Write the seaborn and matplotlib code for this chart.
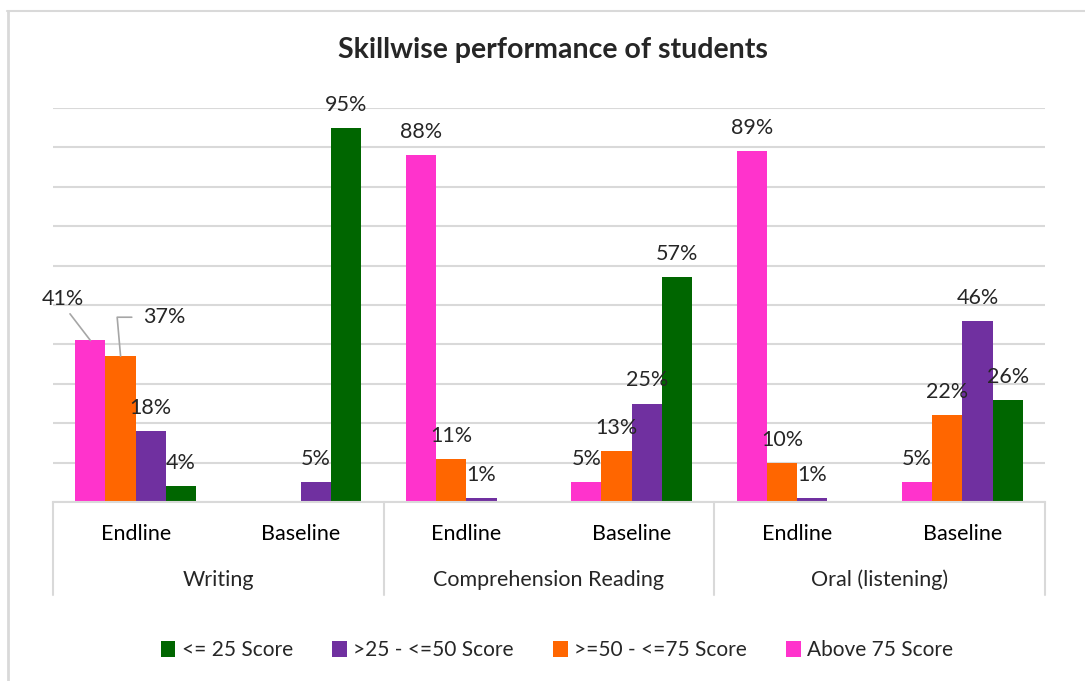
import numpy as np
import pandas as pd
import seaborn as sns
import matplotlib.pyplot as plt
from matplotlib.patches import Patch
from matplotlib.lines import Line2D
from matplotlib import transforms

# data (percent of students)
skills = ["Writing", "Comprehension Reading", "Oral (listening)"]
rounds = ["Endline", "Baseline"]
series_names = ["Above 75 Score", ">=50 - <=75 Score", ">25 - <=50 Score", "<= 25 Score"]
above_75 = [41, 0, 88, 5, 89, 5]
score_50_75 = [37, 0, 11, 13, 10, 22]
score_25_50 = [18, 5, 1, 25, 1, 46]
score_le_25 = [4, 95, 0, 57, 0, 26]

colors = ["#FF33CC", "#FF6600", "#7030A0", "#006600"]

slots = [s + " " + r for s in skills for r in rounds]
rows = []
for name, vals in zip(series_names, [above_75, score_50_75, score_25_50, score_le_25]):
    for slot, v in zip(slots, vals):
        rows.append({"slot": slot, "series": name, "value": v})
df = pd.DataFrame(rows)

sns.set_theme(style="white")
plt.rcParams["font.family"] = ["Lato", "DejaVu Sans"]

W, H = 1085, 681
fig = plt.figure(figsize=(W / 100, H / 100), dpi=100)
ax = fig.add_axes([53 / W, 1 - 502 / H, (1045 - 53) / W, (502 - 108) / H])

sns.barplot(data=df, x="slot", y="value", hue="series", order=slots,
            hue_order=series_names, palette=colors, saturation=1,
            width=0.73, linewidth=0, legend=False, ax=ax)

grid_c = "#D9D9D9"
ax.set_ylim(0, 100)
ax.set_xlim(-0.5, 5.5)
ax.set_yticks(np.arange(0, 101, 10))
ax.yaxis.grid(True, color=grid_c, lw=1.5)
ax.set_axisbelow(True)
ax.tick_params(axis="y", length=0, labelleft=False)
ax.tick_params(axis="x", length=0, pad=16, labelsize=15.5, labelcolor="black")
ax.set_xticks(range(len(slots)))
ax.set_xticklabels(rounds * len(skills))
ax.set_xlabel("")
ax.set_ylabel("")
for sp in ["top", "left", "right"]:
    ax.spines[sp].set_visible(False)
ax.spines["bottom"].set_color(grid_c)
ax.spines["bottom"].set_linewidth(1.5)

# group labels and separators under the axis
blend = transforms.blended_transform_factory(ax.transData, ax.transAxes)
for xv in [-0.5, 1.5, 3.5, 5.5]:
    ax.plot([xv, xv], [0, -0.236], transform=blend, clip_on=False, color=grid_c, lw=1.5)
for i, s in enumerate(skills):
    ax.text(2 * i + 0.5, -0.197, s, transform=blend, ha="center", va="center", fontsize=15.5)

# data labels
for si, cont in enumerate(ax.containers):
    for bi, bar in enumerate(cont):
        h = bar.get_height()
        if h <= 0:
            continue
        cx = bar.get_x() + bar.get_width() / 2
        lab = "{:.0f}%".format(h)
        if si == 0 and bi == 0:
            ax.annotate(lab, xy=(cx, h), xytext=(-28, 41), textcoords="offset pixels",
                        ha="center", va="center", fontsize=15.5,
                        arrowprops=dict(arrowstyle="-", color="#A6A6A6", lw=1.2,
                                        relpos=(0.6, 0), shrinkA=1, shrinkB=0))
        elif si == 1 and bi == 0:
            ax.annotate(lab, xy=(cx, h), xytext=(44, 39), textcoords="offset pixels",
                        ha="center", va="center", fontsize=15.5,
                        arrowprops=dict(arrowstyle="-", color="#A6A6A6", lw=1.2,
                                        relpos=(0, 0.5), shrinkA=6, shrinkB=0,
                                        connectionstyle="angle,angleA=0,angleB=95,rad=0"))
        else:
            ax.annotate(lab, xy=(cx, h), xytext=(0, 13), textcoords="offset pixels",
                        ha="center", va="bottom", fontsize=15.5)

fig.text(553 / W, 1 - 50 / H, "Skillwise performance of students", ha="center", va="center",
         fontsize=20.5, fontweight="bold")

handles = [Patch(facecolor=colors[i], edgecolor="none") for i in [3, 2, 1, 0]]
labels = [series_names[i] for i in [3, 2, 1, 0]]
fig.legend(handles, labels, loc="center", bbox_to_anchor=(557 / W, 1 - 650 / H), ncol=4,
           frameon=False, fontsize=15, handlelength=0.7, handleheight=0.8,
           handletextpad=0.3, columnspacing=1.9)

# outer chart border (top and left visible)
fig.add_artist(Line2D([7 / W, 1], [1 - 11 / H, 1 - 11 / H], transform=fig.transFigure, color=grid_c, lw=1.5))
fig.add_artist(Line2D([8 / W, 8 / W], [0, 1 - 11 / H], transform=fig.transFigure, color=grid_c, lw=2))

fig.savefig("out.png", dpi=100, facecolor="white")
